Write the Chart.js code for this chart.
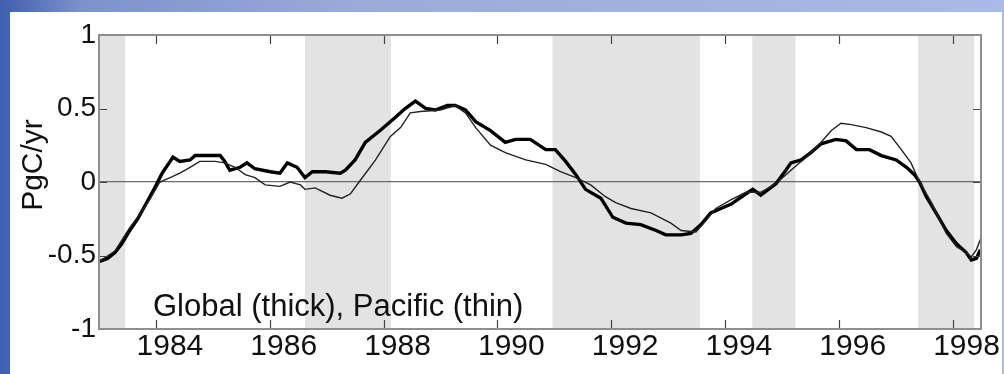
<!DOCTYPE html>
<html>
<head>
<meta charset="utf-8">
<script src="https://cdn.jsdelivr.net/npm/chart.js@4.4.1/dist/chart.umd.min.js"></script>
<style>
  html, body { margin: 0; padding: 0; }
  body {
    width: 1004px;
    height: 374px;
    overflow: hidden;
    background: linear-gradient(to right, #3f5eae 0%, #7d92cc 8%, #9aaad9 35%, #a9b9e8 100%);
    position: relative;
  }
  #panel {
    position: absolute;
    left: 10px;
    top: 12px;
    width: 992px;
    height: 362px;
    background: #ffffff;
  }
  #fluxChart { display: block; }
</style>
</head>
<body>
<div id="panel">
  <canvas id="fluxChart" width="992" height="362"></canvas>
</div>
<script>
// Air-sea CO2 flux anomaly, PgC/yr
const globalYears = [1983.01, 1983.15, 1983.28, 1983.40, 1983.54, 1983.68, 1983.81, 1983.98, 1984.11, 1984.25,
  1984.30, 1984.42, 1984.60, 1984.69, 1984.95, 1985.13, 1985.21, 1985.30, 1985.48, 1985.60,
  1985.74, 1986.01, 1986.18, 1986.31, 1986.48, 1986.62, 1986.75, 1986.98, 1987.24, 1987.33,
  1987.50, 1987.68, 1987.94, 1988.21, 1988.38, 1988.56, 1988.74, 1988.91, 1989.12, 1989.26,
  1989.44, 1989.62, 1989.88, 1990.14, 1990.32, 1990.58, 1990.85, 1991.02, 1991.20, 1991.38,
  1991.55, 1991.82, 1992.03, 1992.26, 1992.52, 1992.79, 1992.96, 1993.23, 1993.40, 1993.58,
  1993.75, 1993.93, 1994.11, 1994.37, 1994.49, 1994.63, 1994.90, 1995.07, 1995.16, 1995.34,
  1995.51, 1995.69, 1995.95, 1996.13, 1996.31, 1996.54, 1996.75, 1997.01, 1997.19, 1997.33,
  1997.42, 1997.54, 1997.71, 1997.89, 1998.07, 1998.24, 1998.33, 1998.42, 1998.49];
const globalFlux = [-0.54, -0.52, -0.48, -0.42, -0.33, -0.25, -0.16, -0.04, 0.06, 0.14,
  0.17, 0.14, 0.15, 0.18, 0.18, 0.18, 0.14, 0.08, 0.10, 0.13,
  0.09, 0.07, 0.06, 0.13, 0.10, 0.03, 0.07, 0.07, 0.06, 0.08,
  0.15, 0.27, 0.35, 0.44, 0.50, 0.55, 0.50, 0.49, 0.52, 0.52,
  0.49, 0.41, 0.35, 0.27, 0.29, 0.29, 0.22, 0.22, 0.14, 0.05,
  -0.05, -0.11, -0.24, -0.28, -0.29, -0.33, -0.36, -0.36, -0.35, -0.29,
  -0.21, -0.18, -0.15, -0.08, -0.05, -0.09, -0.01, 0.08, 0.13, 0.15,
  0.20, 0.26, 0.29, 0.28, 0.22, 0.22, 0.18, 0.15, 0.10, 0.05,
  0.00, -0.10, -0.21, -0.33, -0.42, -0.48, -0.53, -0.52, -0.46];

const pacificYears = [1983.01, 1983.28, 1983.54, 1983.72, 1983.89, 1984.07, 1984.25, 1984.42, 1984.60, 1984.77,
  1985.04, 1985.21, 1985.39, 1985.57, 1985.74, 1985.92, 1986.18, 1986.36, 1986.54, 1986.62,
  1986.80, 1987.06, 1987.27, 1987.42, 1987.59, 1987.86, 1988.12, 1988.30, 1988.47, 1988.65,
  1989.00, 1989.26, 1989.44, 1989.62, 1989.88, 1990.14, 1990.50, 1990.85, 1991.11, 1991.38,
  1991.64, 1991.90, 1992.08, 1992.35, 1992.70, 1993.05, 1993.23, 1993.49, 1993.67, 1993.84,
  1994.11, 1994.37, 1994.63, 1994.90, 1995.16, 1995.43, 1995.69, 1995.87, 1996.04, 1996.22,
  1996.48, 1996.75, 1996.92, 1997.10, 1997.27, 1997.42, 1997.63, 1997.89, 1998.07, 1998.24,
  1998.33, 1998.42, 1998.49];
const pacificFlux = [-0.54, -0.47, -0.31, -0.22, -0.12, 0.00, 0.03, 0.06, 0.10, 0.14,
  0.14, 0.13, 0.10, 0.05, 0.03, -0.02, -0.03, 0.00, -0.02, -0.05,
  -0.04, -0.09, -0.11, -0.08, 0.01, 0.15, 0.31, 0.37, 0.47, 0.48,
  0.49, 0.52, 0.47, 0.37, 0.25, 0.20, 0.15, 0.12, 0.07, 0.03,
  -0.02, -0.10, -0.14, -0.18, -0.21, -0.28, -0.33, -0.34, -0.26, -0.18,
  -0.12, -0.07, -0.07, -0.01, 0.08, 0.17, 0.27, 0.35, 0.40, 0.39,
  0.37, 0.34, 0.31, 0.22, 0.13, 0.00, -0.14, -0.35, -0.44, -0.48,
  -0.51, -0.46, -0.39];

// shaded periods (start, end year)
const bandStarts = [1983.0, 1986.62, 1990.97, 1994.48, 1997.39];
const bandEnds = [1983.46, 1988.13, 1993.56, 1995.24, 1998.38];

const xTicks = [1984, 1986, 1988, 1990, 1992, 1994, 1996, 1998];
const yTicks = [-1, -0.5, 0, 0.5, 1];

const toPoints = (xs, ys) => xs.map((x, i) => ({ x: x, y: ys[i] }));

const FONT = "'Liberation Sans', Arial, Helvetica, sans-serif";

// gray bands behind everything
const bandsPlugin = {
  id: 'bands',
  beforeDraw(chart) {
    const { ctx, chartArea, scales } = chart;
    ctx.save();
    ctx.fillStyle = '#e3e3e3';
    bandStarts.forEach((start, i) => {
      const x0 = scales.x.getPixelForValue(start);
      const x1 = scales.x.getPixelForValue(bandEnds[i]);
      ctx.fillRect(x0, chartArea.top, x1 - x0, chartArea.bottom - chartArea.top);
    });
    ctx.restore();
  }
};

// box, inward ticks, y title and the in-plot note
const framePlugin = {
  id: 'frame',
  afterDraw(chart) {
    const { ctx, chartArea, scales } = chart;
    const { left, right, top, bottom } = chartArea;
    ctx.save();

    ctx.strokeStyle = '#444';
    ctx.lineWidth = 1.2;
    ctx.beginPath();
    xTicks.forEach(v => {
      const x = Math.round(scales.x.getPixelForValue(v)) + 0.5;
      ctx.moveTo(x, bottom); ctx.lineTo(x, bottom - 9);
      ctx.moveTo(x, top); ctx.lineTo(x, top + 9);
    });
    yTicks.forEach(v => {
      const y = Math.round(scales.y.getPixelForValue(v)) + 0.5;
      ctx.moveTo(left, y); ctx.lineTo(left + 8, y);
      ctx.moveTo(right, y); ctx.lineTo(right - 8, y);
    });
    ctx.stroke();

    ctx.strokeStyle = '#8f8f8f';
    ctx.lineWidth = 2;
    ctx.strokeRect(left, top, right - left, bottom - top);

    ctx.fillStyle = '#111';
    ctx.font = '31px ' + FONT;
    ctx.textAlign = 'left';
    ctx.textBaseline = 'alphabetic';
    ctx.fillText('Global (thick), Pacific (thin)', 143, 304);

    ctx.translate(24, 153);
    ctx.rotate(-Math.PI / 2);
    ctx.font = '30px ' + FONT;
    ctx.textAlign = 'center';
    ctx.textBaseline = 'middle';
    ctx.fillText('PgC/yr', 0, 0);
    ctx.restore();
  }
};

const canvas = document.getElementById('fluxChart');
new Chart(canvas.getContext('2d'), {
  type: 'line',
  data: {
    datasets: [
      {
        label: 'Pacific',
        data: toPoints(pacificYears, pacificFlux),
        borderColor: '#222',
        borderWidth: 1.4,
        pointRadius: 0,
        tension: 0,
        fill: false
      },
      {
        label: 'Global',
        data: toPoints(globalYears, globalFlux),
        borderColor: '#000',
        borderWidth: 3.4,
        pointRadius: 0,
        tension: 0,
        fill: false
      }
    ]
  },
  options: {
    responsive: false,
    animation: false,
    events: [],
    layout: { padding: { top: 23, right: 21, left: 0, bottom: 0 } },
    plugins: {
      legend: { display: false },
      tooltip: { enabled: false }
    },
    scales: {
      x: {
        type: 'linear',
        min: 1983,
        max: 1998.5,
        afterFit: scale => { scale.height = 45; },
        afterBuildTicks: scale => { scale.ticks = xTicks.map(v => ({ value: v })); },
        border: { display: false },
        grid: { display: false, drawTicks: false },
        ticks: {
          padding: 0,
          labelOffset: 14,
          maxRotation: 0,
          color: '#111',
          font: { family: FONT, size: 30 },
          callback: v => String(v)
        }
      },
      y: {
        min: -1,
        max: 1,
        afterFit: scale => { scale.width = 89; },
        afterBuildTicks: scale => { scale.ticks = yTicks.map(v => ({ value: v })); },
        border: { display: false },
        grid: {
          drawTicks: false,
          lineWidth: 1.2,
          color: c => (c.tick && c.tick.value === 0 ? '#6a6a6a' : 'rgba(0,0,0,0)')
        },
        ticks: {
          padding: 3,
          color: '#111',
          font: { family: FONT, size: 28 },
          callback: v => String(v)
        }
      }
    }
  },
  plugins: [bandsPlugin, framePlugin]
});
</script>
</body>
</html>
